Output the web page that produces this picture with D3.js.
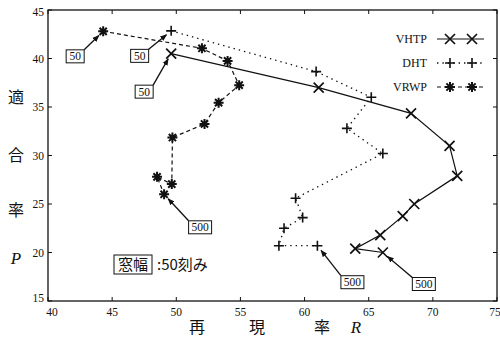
<!DOCTYPE html>
<html>
<head>
<meta charset="utf-8">
<script src="https://cdn.jsdelivr.net/npm/d3@7"></script>
<style>
  body { margin: 0; background: #fff; }
  svg { display: block; }
  text { fill: #111; }
</style>
</head>
<body>
<svg width="500" height="337"></svg>
<script>
'use strict';

// window widths 50..500 step 50
const windows = [50, 100, 150, 200, 250, 300, 350, 400, 450, 500];

const vhtpR = [49.6, 61.1, 68.3, 71.3, 71.9, 68.55, 67.65, 65.9, 63.95, 66.1];
const vhtpP = [40.5, 37.0, 34.35, 31.0, 27.9, 25.0, 23.75, 21.8, 20.4, 20.0];

const dhtR = [49.6, 60.9, 65.2, 63.3, 66.1, 59.3, 59.85, 58.4, 58.0, 61.0];
const dhtP = [42.85, 38.65, 36.0, 32.8, 30.2, 25.6, 23.6, 22.5, 20.7, 20.7];

const vrwpR = [44.3, 52.0, 54.0, 54.9, 53.3, 52.2, 49.7, 49.65, 48.5, 49.05];
const vrwpP = [42.8, 41.05, 39.75, 37.25, 35.45, 33.25, 31.85, 27.05, 27.8, 26.0];

const xTicks = [40, 45, 50, 55, 60, 65, 70, 75];
const yTicks = [15, 20, 25, 30, 35, 40, 45];

const svg = d3.select("svg");
const margin = {left: 48, right: 3, top: 10, bottom: 36};
const width = 500, height = 337;

const x = d3.scaleLinear().domain([40, 75]).range([margin.left, width - margin.right]);
const y = d3.scaleLinear().domain([15, 45]).range([height - margin.bottom, margin.top]);

const serif = "'Liberation Serif', 'DejaVu Serif', serif";
const cjk = "'Noto Sans CJK JP', sans-serif";

svg.append("defs").append("marker")
    .attr("id", "arr")
    .attr("viewBox", "0 0 10 10")
    .attr("refX", 9).attr("refY", 5)
    .attr("markerWidth", 7).attr("markerHeight", 7)
    .attr("markerUnits", "userSpaceOnUse")
    .attr("orient", "auto")
  .append("path")
    .attr("d", "M0,1L10,5L0,9Z")
    .attr("fill", "#111");

// frame
svg.append("rect")
    .attr("x", x(40)).attr("y", y(45))
    .attr("width", x(75) - x(40)).attr("height", y(15) - y(45))
    .attr("fill", "none").attr("stroke", "#111").attr("stroke-width", 1.3);

// inward ticks on all sides
const tk = 4;
let ticks = svg.append("g").attr("stroke", "#111").attr("stroke-width", 1);
xTicks.forEach(t => {
  ticks.append("line").attr("x1", x(t)).attr("x2", x(t)).attr("y1", y(15)).attr("y2", y(15) - tk);
  ticks.append("line").attr("x1", x(t)).attr("x2", x(t)).attr("y1", y(45)).attr("y2", y(45) + tk);
});
yTicks.forEach(t => {
  ticks.append("line").attr("x1", x(40)).attr("x2", x(40) + tk).attr("y1", y(t)).attr("y2", y(t));
  ticks.append("line").attr("x1", x(75)).attr("x2", x(75) - tk).attr("y1", y(t)).attr("y2", y(t));
});

// tick labels (75 sits at the right edge, as in the source)
svg.append("g").selectAll("text")
  .data(xTicks)
  .join("text")
    .attr("x", d => x(d) + (d === 40 ? 4 : d === 75 ? -2 : 0))
    .attr("y", y(15) + 15)
    .attr("text-anchor", "middle")
    .attr("font-family", serif).attr("font-size", 11.5)
    .text(d => d);

svg.append("g").selectAll("text")
  .data(yTicks)
  .join("text")
    .attr("x", x(40) - 4)
    .attr("y", d => y(d) + (d === 45 ? 6 : d === 15 ? 1 : 4))
    .attr("text-anchor", "end")
    .attr("font-family", serif).attr("font-size", 11.5)
    .text(d => d);

// axis titles
const yTitle = [["適", 97], ["合", 155], ["率", 210]];
yTitle.forEach(([c, cy]) => {
  svg.append("text").attr("x", 16).attr("y", cy + 6)
    .attr("text-anchor", "middle")
    .attr("font-family", cjk).attr("font-size", 16)
    .text(c);
});
svg.append("text").attr("x", 16).attr("y", 264)
  .attr("text-anchor", "middle")
  .attr("font-family", serif).attr("font-style", "italic").attr("font-size", 17)
  .text("P");

const xTitle = [["再", 197], ["現", 257], ["率", 322]];
xTitle.forEach(([c, cx]) => {
  svg.append("text").attr("x", cx).attr("y", 333)
    .attr("text-anchor", "middle")
    .attr("font-family", cjk).attr("font-size", 16)
    .text(c);
});
svg.append("text").attr("x", 356).attr("y", 333)
  .attr("text-anchor", "middle")
  .attr("font-family", serif).attr("font-style", "italic").attr("font-size", 17)
  .text("R");

// marker shapes
function drawMark(g, kind, cx, cy) {
  const s = 5;
  if (kind === "x") {
    g.append("path").attr("d", `M${cx - s},${cy - s}L${cx + s},${cy + s}M${cx - s},${cy + s}L${cx + s},${cy - s}`)
      .attr("stroke", "#111").attr("stroke-width", 1.7);
  } else if (kind === "+") {
    g.append("path").attr("d", `M${cx - s},${cy}L${cx + s},${cy}M${cx},${cy - s}L${cx},${cy + s}`)
      .attr("stroke", "#111").attr("stroke-width", 1.6);
  } else {
    const a = 5, d = 3.6;
    g.append("path").attr("d",
      `M${cx - a},${cy}L${cx + a},${cy}M${cx},${cy - a}L${cx},${cy + a}` +
      `M${cx - d},${cy - d}L${cx + d},${cy + d}M${cx - d},${cy + d}L${cx + d},${cy - d}`)
      .attr("stroke", "#111").attr("stroke-width", 2);
  }
}

const series = [
  {name: "VHTP", R: vhtpR, P: vhtpP, mark: "x", dash: null, width: 1.2},
  {name: "DHT", R: dhtR, P: dhtP, mark: "+", dash: "1.4,4", width: 1.3},
  {name: "VRWP", R: vrwpR, P: vrwpP, mark: "*", dash: "4,3", width: 1.2}
];

const line = d3.line().x(d => x(d[0])).y(d => y(d[1]));

series.forEach(s => {
  const pts = windows.map((w, i) => [s.R[i], s.P[i]]);
  svg.append("path")
    .datum(pts)
    .attr("d", line)
    .attr("fill", "none")
    .attr("stroke", "#111")
    .attr("stroke-width", s.width)
    .attr("stroke-dasharray", s.dash);
  const g = svg.append("g");
  pts.forEach(p => drawMark(g, s.mark, x(p[0]), y(p[1])));
});

// legend
const legend = svg.append("g");
series.forEach((s, i) => {
  const ly = 39 + i * 24;
  legend.append("text")
    .attr("x", 427).attr("y", ly + 4)
    .attr("text-anchor", "end")
    .attr("font-family", serif).attr("font-size", 12)
    .text(s.name);
  legend.append("line")
    .attr("x1", 437).attr("x2", 484).attr("y1", ly).attr("y2", ly)
    .attr("stroke", "#111").attr("stroke-width", s.width)
    .attr("stroke-dasharray", s.dash);
  drawMark(legend, s.mark, 450, ly);
  drawMark(legend, s.mark, 472, ly);
});

// window-width annotations: [series index, point index, box dx, box dy]
const notes = [
  [2, 0, -28, 25],
  [1, 0, -31.5, 25],
  [0, 0, -27, 38],
  [2, 9, 36, 33],
  [1, 9, 35, 36.5],
  [0, 9, 41, 31.5]
];

const ann = svg.append("g");
notes.forEach(([si, pi, dx, dy]) => {
  const s = series[si];
  const px = x(s.R[pi]), py = y(s.P[pi]);
  const label = String(windows[pi]);
  const bw = label.length === 2 ? 18 : 23, bh = 13;
  const bx = px + dx, by = py + dy;
  // arrow from box corner facing the point
  const sx = bx + (dx < 0 ? bw / 2 : -bw / 2);
  const sy = by - bh / 2;
  const len = Math.hypot(px - sx, py - sy);
  const ex = px - (px - sx) / len * 6, ey = py - (py - sy) / len * 6;
  ann.append("line")
    .attr("x1", sx).attr("y1", sy).attr("x2", ex).attr("y2", ey)
    .attr("stroke", "#111").attr("stroke-width", 1.3)
    .attr("marker-end", "url(#arr)");
  ann.append("rect")
    .attr("x", bx - bw / 2).attr("y", by - bh / 2)
    .attr("width", bw).attr("height", bh)
    .attr("fill", "#fff").attr("stroke", "#111").attr("stroke-width", 1);
  ann.append("text")
    .attr("x", bx).attr("y", by + 4)
    .attr("text-anchor", "middle")
    .attr("font-family", serif).attr("font-size", 11.5)
    .text(label);
});

// note: window width in steps of 50
svg.append("rect")
  .attr("x", 114).attr("y", 255).attr("width", 38).attr("height", 19)
  .attr("fill", "none").attr("stroke", "#111").attr("stroke-width", 1);
svg.append("text").attr("x", 133).attr("y", 270)
  .attr("text-anchor", "middle")
  .attr("font-family", cjk).attr("font-size", 15)
  .text("窓幅");
svg.append("text").attr("x", 157).attr("y", 270)
  .attr("font-family", cjk).attr("font-size", 15)
  .text(":50刻み");
</script>
</body>
</html>
